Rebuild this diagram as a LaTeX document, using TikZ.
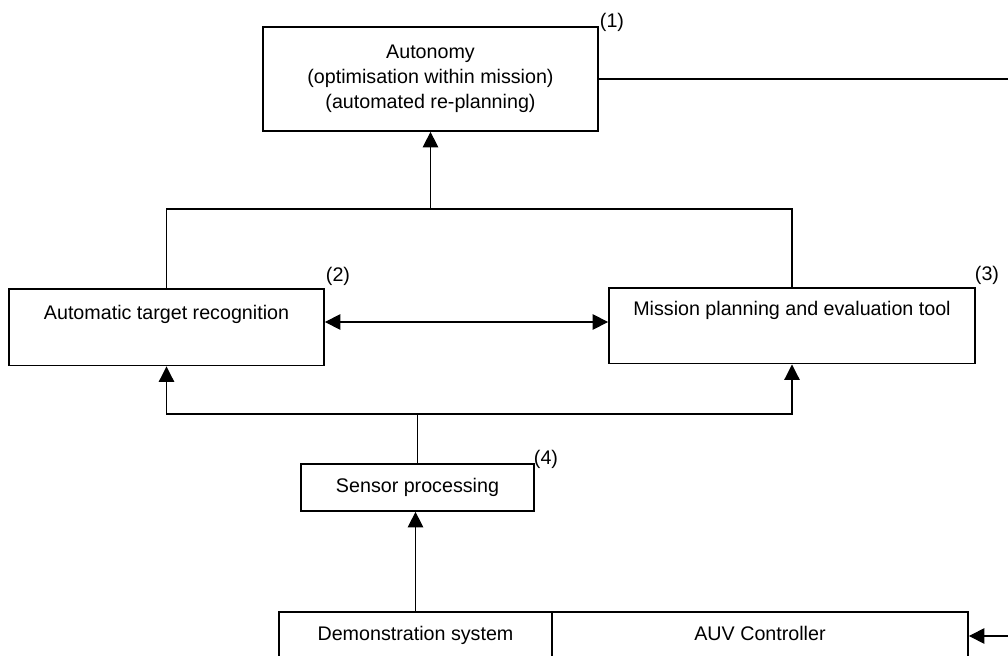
\documentclass[tikz,border=0pt]{standalone}
\usepackage{fontspec}
\setmainfont{Liberation Sans}
\usetikzlibrary{arrows.meta}

\tikzset{
  block/.style={draw, line width=1.2pt, inner xsep=0pt, font=\fontsize{14}{17.8}\selectfont, align=center},
  link/.style={line width=0.8pt},
  tip/.style={link, -{Triangle[length=11pt, width=11pt]}},
  dbl/.style={link, {Triangle[length=11pt, width=11pt]}-{Triangle[length=11pt, width=11pt]}},
  num/.style={inner sep=0pt, font=\fontsize{14}{17}\selectfont}
}

\begin{document}
\begin{tikzpicture}[x=0.025cm, y=-0.025cm]
    \useasboundingbox (0,0) rectangle (1008,656);

    % Draw the boxes
    \node[block, minimum width=8.375cm, minimum height=2.6cm] (auto) at (430.5,79) {Autonomy\\(optimisation within mission)\\(automated re-planning)};
    \node[block, anchor=north, minimum width=7.875cm, inner ysep=12pt, text height=10pt, text depth=20.6pt] (atr) at (166.5,288) {Automatic target recognition};
    \node[block, anchor=north, minimum width=9.15cm, inner ysep=9.9pt, text height=10pt, text depth=24.1pt] (mpet) at (792,287) {Mission planning and evaluation tool};
    \node[block, minimum width=5.825cm, minimum height=1.175cm] (sens) at (417.5,487.5) {Sensor processing};
    \node[block, minimum width=6.825cm, minimum height=1.2cm, text height=10pt, text depth=4pt] (demo) at (415.5,636) {Demonstration system};
    \node[block, minimum width=10.4cm, minimum height=1.2cm, text height=10pt, text depth=4pt] (auv) at (760,636) {AUV Controller};

    % Draw the numbers
    \node[num] (n1) at (612,22) {(1)};
    \node[num] (n2) at (338,276) {(2)};
    \node[num] (n3) at (987,275) {(3)};
    \node[num] (n4) at (546,459) {(4)};

    % Draw the connections
    \coordinate (topjoin) at (auto.south |- 0,209);
    \draw[link] (atr.north) |- (topjoin) -| (mpet.north);
    \draw[tip] (topjoin) -- (auto.south);
    \draw[dbl] (atr.east |- 0,322) -- (mpet.west |- 0,322);
    \coordinate (lowjoin) at (sens.north |- 0,414);
    \draw[link] (sens.north) -- (lowjoin);
    \draw[tip] (lowjoin) -| (atr.south);
    \draw[tip] (lowjoin) -| (mpet.south);
    \draw[tip] (demo.north) -- (demo.north |- sens.south);
    \draw[tip] (auto.east) -- ++(440,0) |- (auv.east);
\end{tikzpicture}
\end{document}
